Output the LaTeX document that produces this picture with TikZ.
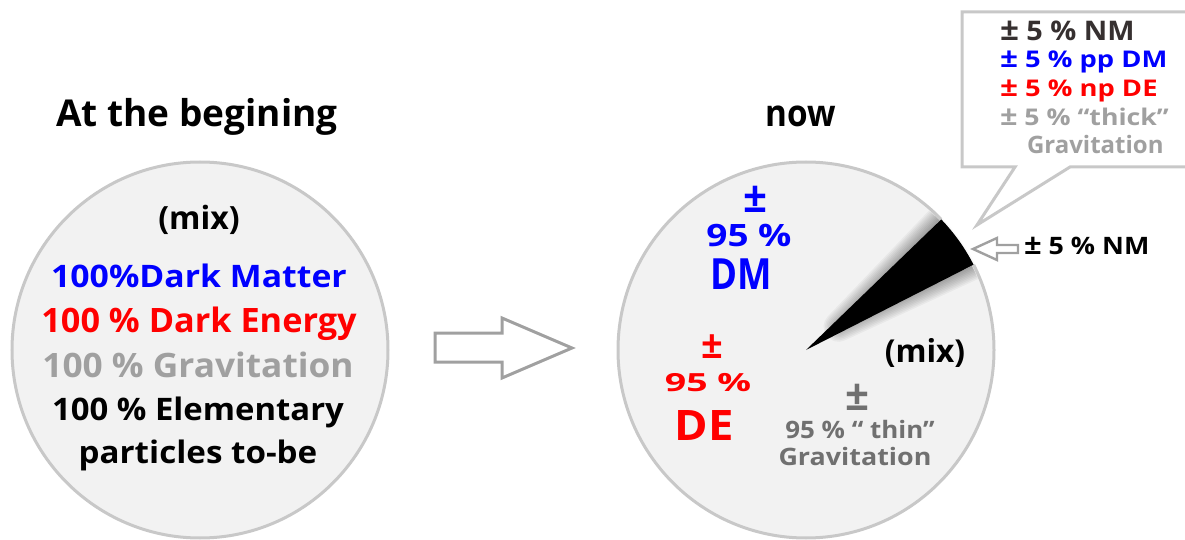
\documentclass[tikz,border=0pt]{standalone}
\usepackage{fontspec}
\usepackage{graphicx}
\setmainfont{Open Sans}
\usetikzlibrary{calc}
\definecolor{cfill}{HTML}{F2F2F2}
\definecolor{cline}{HTML}{C8C8C8}
\definecolor{ablue}{HTML}{0000FF}
\definecolor{ared}{HTML}{FF0000}
\definecolor{lgrey}{HTML}{A0A0A0}
\definecolor{dgrey}{HTML}{707070}
\definecolor{arrgrey}{HTML}{A0A0A0}
\definecolor{nmdark}{HTML}{363030}
\newcommand\myfs[1]{\fontsize{#1}{#1}\selectfont}
\newcommand\bigpm{\scalebox{1.15}{±}}
\begin{document}
\begin{tikzpicture}[x=0.5pt,y=-0.5pt,
  every node/.style={inner sep=0pt,outer sep=0pt,font=\bfseries},
  ball/.style={circle,draw=cline,line width=1.5pt,fill=cfill,minimum size=188pt},
  txt/.style={anchor=base},
  txtl/.style={anchor=base west},
  cline1/.style={txtl,text height=9pt,text depth=0pt},
  cline2/.style={txtl,text height=8.4pt,text depth=2.5pt},
  hollow/.style={draw=arrgrey,line width=1.5pt,line join=miter,fill=white}]
\useasboundingbox (0,0) rectangle (1185,540);
% headings
\node[txt,font=\bfseries\myfs{18.5}] (h1) at (197,127) {At the begining};
\node[txt,font=\bfseries\myfs{18.5},xscale=0.9] (h2) at (801,127) {now};
% circles
\node[ball] (left) at (200,350) {};
\node[ball] (right) at (806,350) {};
% left texts
\node[txt,font=\bfseries\myfs{16}] (lmix) at (199,230) {(mix)};
\node[txt,font=\bfseries\myfs{15.5},text=ablue,xscale=1.09] (ldm) at (199,287) {100\%Dark Matter};
\node[txt,font=\bfseries\myfs{16.8},text=ared,xscale=1.02] (lde) at (199,332) {100 \% Dark Energy};
\node[txt,font=\bfseries\myfs{16.8},text=lgrey,xscale=1.05] (lgr) at (198,377) {100 \% Gravitation};
\node[txt,font=\bfseries\myfs{15.5},xscale=1.06] (lel) at (198,420) {100 \% Elementary};
\node[txt,font=\bfseries\myfs{15.5},xscale=1.07] (lpa) at (198,463) {particles to-be};
% big arrow
\draw[hollow] (435,333) -- (502,333) -- (502,318) -- (572,348) -- (502,378) -- (502,362) -- (435,362) -- cycle;
% wedge glow
\begin{scope}
\clip (806,350) circle[radius=186];
\foreach \w in {3,6,...,30}{
  \draw[line width=\w*0.5pt,black,opacity=0.04,line join=round]
    ($(806,350)+(-35.5:40)$) -- ($(806,350)+(-27:188)$) arc[start angle=-27,end angle=-44,radius=188] -- cycle;}
\end{scope}
\begin{scope}
\clip (806,350) circle[radius=260];
\foreach \w/\o in {26/0.35,16/0.5,8/0.7}{
  \draw[line width=\w*0.5pt,white,opacity=\o,line join=round]
    ($(806,350)+(-27:188)$) arc[start angle=-27,end angle=-44,radius=188];}
\end{scope}
\fill[black] (806,350) -- ++(-27:188) arc[start angle=-27,end angle=-44,radius=188] -- cycle;
% right texts
\node[txt,font=\bfseries\myfs{21},text=ablue] (rdpm) at (755,213) {±};
\node[txt,font=\bfseries\myfs{15.4},text=ablue,xscale=1.2] (rd95) at (749,247) {95 \%};
\node[txt,font=\bfseries\myfs{21.5},text=ablue,xscale=0.85] (rdm) at (741,290) {DM};
\node[txt,font=\bfseries\myfs{19},text=ared] (repm) at (712,358) {±};
\node[txt,font=\bfseries\myfs{12.5},text=ared,xscale=1.5] (re95) at (708,391) {95 \%};
\node[txt,font=\bfseries\myfs{21},text=ared,xscale=1.08] (rde) at (704,440) {DE};
\node[txt,font=\bfseries\myfs{15.8}] (rmix) at (925,363) {(mix)};
\node[txt,font=\bfseries\myfs{21},text=dgrey] (rgpm) at (857,410) {±};
\node[txt,font=\bfseries\myfs{12},text=dgrey,xscale=1.08] (rg95) at (860,438) {95 \% “ thin”};
\node[txt,font=\bfseries\myfs{12},text=dgrey,xscale=1.12] (rgr) at (855,465) {Gravitation};
% callout
\draw[draw=cline,line width=1.5pt,fill=white,line join=miter]
  (1015,167) -- (962,167) -- (962,12) -- (1200,12) -- (1200,167) -- (1070,167) -- (977,225) -- cycle;
\node[cline1,font=\bfseries\myfs{13.5},text=nmdark,xscale=1.07] (c1) at (1000,41) {\bigpm{} 5 \% NM};
\node[cline2,font=\bfseries\myfs{11.5},text=ablue,xscale=1.19] (c2) at (1000,68) {\bigpm{} 5 \% pp DM};
\node[cline2,font=\bfseries\myfs{11.5},text=ared,xscale=1.19] (c3) at (1000,97) {\bigpm{} 5 \% np DE};
\node[cline2,font=\bfseries\myfs{11.5},text=lgrey,xscale=1.16] (c4) at (1000,126) {\bigpm{} 5 \% “thick”};
\node[cline2,font=\bfseries\myfs{12},text=lgrey] (c5) at (1027,154) {Gravitation};
% small arrow
\draw[hollow,line width=1.2pt] (973,249) -- (997,238) -- (997,245) -- (1018,245) -- (1018,253) -- (997,253) -- (997,260) -- cycle;
\node[txtl,font=\bfseries\myfs{12},xscale=1.12] (nm) at (1024,255) {\bigpm{} 5 \% NM};
\end{tikzpicture}
\end{document}
